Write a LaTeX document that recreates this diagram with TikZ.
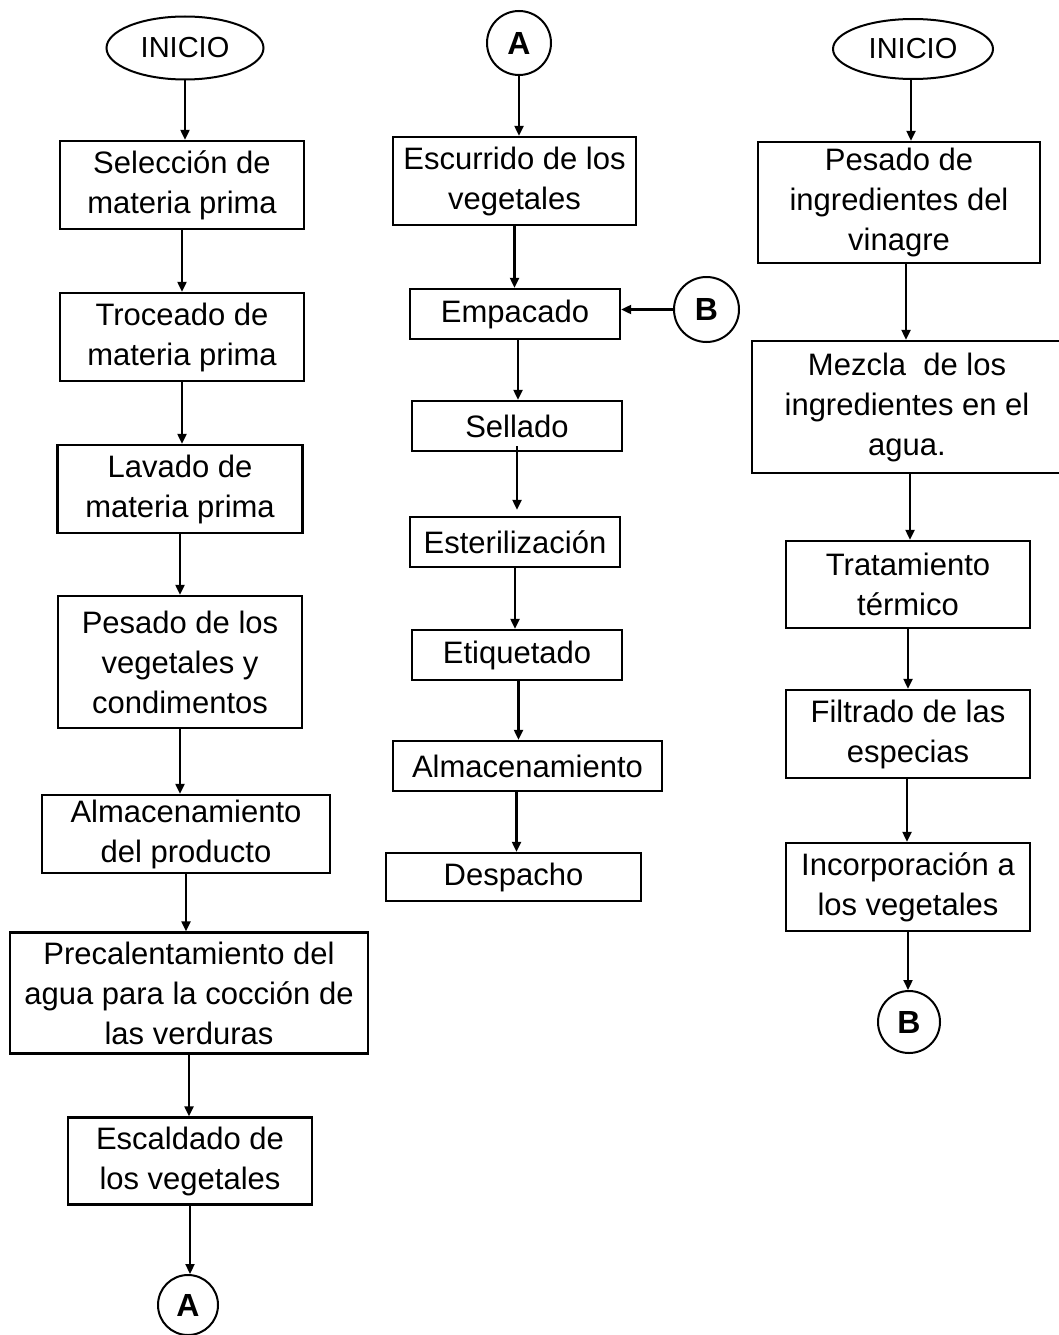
\documentclass[tikz,border=0pt]{standalone}
\usepackage{fontspec}
\setmainfont{Liberation Sans}
\usetikzlibrary{arrows.meta,shapes.geometric}
\begin{document}
\begin{tikzpicture}[x=1pt,y=-1pt,
  box/.style={draw, line width=2.4pt, rectangle, inner sep=0pt, align=center, font=\fontsize{31}{40}\selectfont},
  term/.style={draw, line width=2pt, ellipse, inner sep=0pt, font=\fontsize{29}{35}\selectfont},
  conn/.style={draw, line width=2pt, circle, inner sep=0pt, minimum size=62pt, font=\bfseries\fontsize{32}{38}\selectfont},
  arr/.style={line width=2.2pt, -{Triangle[length=10pt,width=9pt]}}]
\useasboundingbox (0,0) rectangle (1058,1335);

% Left column
\node[term, minimum width=157pt, minimum height=63pt] (ini1) at (185,48) {INICIO};
\node[box, minimum width=244pt, minimum height=88pt] (s1) at (182,185) {Selección de\\materia prima};
\node[box, minimum width=244pt, minimum height=88pt] (s2) at (182,337) {Troceado de\\materia prima};
\node[box, minimum width=245pt, minimum height=88pt] (s3) at (180,489) {Lavado de\\materia prima};
\node[box, minimum width=244pt, minimum height=132pt] (s4) at (180,662) {Pesado de los\\vegetales y\\condimentos};
\node[box, minimum width=288pt, minimum height=78pt] (s5) at (186,834) {Almacenamiento\\del producto};
\node[box, minimum width=358pt, minimum height=121pt] (s6) at (189,993) {Precalentamiento del\\agua para la cocción de\\las verduras};
\node[box, minimum width=244pt, minimum height=87pt] (s7) at (190,1161) {Escaldado de\\los vegetales};
\node[conn, minimum size=60pt] (A1) at (188,1305) {A};

\draw[arr] (ini1.south) -- (ini1.south |- s1.north);
\draw[arr] (s1.south) -- (s1.south |- s2.north);
\draw[arr] (s2.south) -- (s2.south |- s3.north);
\draw[arr] (s3.south) -- (s3.south |- s4.north);
\draw[arr] (s4.south) -- (s4.south |- s5.north);
\draw[arr] (s5.south) -- (s5.south |- s6.north);
\draw[arr] (s6.south) -- (s6.south |- s7.north);
\draw[arr] (s7.south) -- (s7.south |- A1.north);

% Middle column
\node[conn, minimum size=64pt] (A2) at (519,43) {A};
\node[box, minimum width=243pt, minimum height=88pt] (m1) at (514.5,181) {Escurrido de los\\vegetales};
\node[box, minimum width=210pt, minimum height=50pt] (m2) at (515,314) {Empacado};
\node[box, minimum width=210pt, minimum height=50pt] (m3) at (517,426) {Sellado};
\node[box, minimum width=210pt, minimum height=50pt] (m4) at (515,542) {Esterilización};
\node[box, minimum width=210pt, minimum height=50pt] (m5) at (517,655) {Etiquetado};
\node[box, minimum width=269pt, minimum height=50pt] (m6) at (527.5,766) {Almacenamiento};
\node[box, minimum width=255pt, minimum height=48pt] (m7) at (513.5,877) {Despacho};
\node[conn, minimum size=65pt] (B1) at (706.5,309.5) {B};

\draw[arr] (A2.south) -- (A2.south |- m1.north);
\draw[arr] (m1.south) -- (m1.south |- m2.north);
\draw[arr] ([xshift=3pt]m2.south) -- ([xshift=3pt]m2.south |- m3.north);
\draw[arr] ([yshift=6pt]m3.south) -- ([yshift=6pt]m3.south |- m4.north);
\draw[arr] (m4.south) -- (m4.south |- m5.north);
\draw[arr] ([xshift=-9pt]m6.north |- m5.south) -- ([xshift=-9pt]m6.north);
\draw[arr] ([xshift=3pt]m7.north |- m6.south) -- ([xshift=3pt]m7.north);
\draw[arr] (B1.west) -- (B1.west -| m2.east);

% Right column
\node[term, minimum width=160pt, minimum height=60pt] (ini2) at (913,49) {INICIO};
\node[box, minimum width=282pt, minimum height=121pt] (r1) at (899,202.5) {Pesado de\\ingredientes del\\vinagre};
\node[box, minimum width=310pt, minimum height=132pt] (r2) at (907,407) {Mezcla\ \ de los\\ingredientes en el\\agua.};
\node[box, minimum width=244pt, minimum height=87pt] (r3) at (908,584.5) {Tratamiento\\térmico};
\node[box, minimum width=244pt, minimum height=88pt] (r4) at (908,734) {Filtrado de las\\especias};
\node[box, minimum width=244pt, minimum height=88pt] (r5) at (908,887) {Incorporación a\\los vegetales};
\node[conn] (B2) at (909,1022) {B};

\draw[arr] ([xshift=-2pt]ini2.south) -- ([xshift=-2pt]ini2.south |- r1.north);
\draw[arr] ([xshift=7pt]r1.south) -- ([xshift=7pt]r1.south |- r2.north);
\draw[arr] ([xshift=3pt]r2.south) -- ([xshift=3pt]r2.south |- r3.north);
\draw[arr] (r3.south) -- (r3.south |- r4.north);
\draw[arr] ([xshift=-1pt]r4.south) -- ([xshift=-1pt]r4.south |- r5.north);
\draw[arr] (r5.south) -- (r5.south |- B2.north);
\end{tikzpicture}
\end{document}
